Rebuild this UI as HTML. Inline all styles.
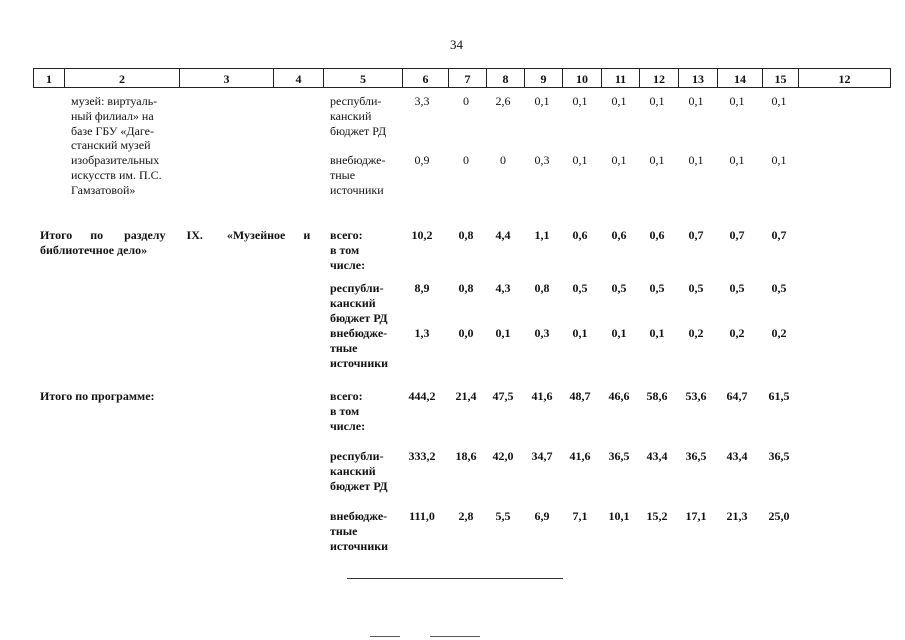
<!DOCTYPE html>
<html><head><meta charset="utf-8"><style>
body{margin:0;background:#fff;width:905px;height:640px;position:relative;overflow:hidden;font-family:"Liberation Serif",serif;color:#111}
.t{position:absolute;font-size:12px;line-height:15px;white-space:nowrap}
.b{font-weight:bold}
.h{position:absolute;top:68px;height:20px;border:1px solid #222;border-right:none;font-weight:bold;font-size:12px;text-align:center;line-height:20px;box-sizing:border-box}
.n{position:absolute;font-size:12px;line-height:15px;width:40px;text-align:center}
</style></head><body>
<div class="t" style="left:450px;top:37px;font-size:13px">34</div>
<div class="h" style="left:33px;width:31px">1</div>
<div class="h" style="left:64px;width:115px">2</div>
<div class="h" style="left:179px;width:94px">3</div>
<div class="h" style="left:273px;width:50px">4</div>
<div class="h" style="left:323px;width:79px">5</div>
<div class="h" style="left:402px;width:46px">6</div>
<div class="h" style="left:448px;width:38px">7</div>
<div class="h" style="left:486px;width:38px">8</div>
<div class="h" style="left:524px;width:38px">9</div>
<div class="h" style="left:562px;width:39px">10</div>
<div class="h" style="left:601px;width:38px">11</div>
<div class="h" style="left:639px;width:39px">12</div>
<div class="h" style="left:678px;width:39px">13</div>
<div class="h" style="left:717px;width:45px">14</div>
<div class="h" style="left:762px;width:36px">15</div>
<div class="h" style="left:798px;width:93px;border-right:1px solid #222">12</div>

<div class="t" style="left:71px;top:94px;line-height:14.8px">музей: виртуаль-<br>ный филиал» на<br>базе ГБУ «Даге-<br>станский музей<br>изобразительных<br>искусств им. П.С.<br>Гамзатовой»</div>
<div class="t" style="left:330px;top:94px">республи-<br>канский<br>бюджет РД</div>
<div class="t" style="left:330px;top:153px">внебюдже-<br>тные<br>источники</div>

<div id="nums"></div>

<div class="t b" style="left:40px;top:228px;width:278px;white-space:normal;text-align:justify;text-align-last:left">Итого&nbsp;&nbsp;&nbsp;&nbsp;&nbsp;&nbsp;по&nbsp;&nbsp;&nbsp;&nbsp;&nbsp;&nbsp;&nbsp;разделу&nbsp;&nbsp;&nbsp;&nbsp;&nbsp;&nbsp;&nbsp;IX.&nbsp;&nbsp;&nbsp;&nbsp;&nbsp;&nbsp;&nbsp;&nbsp;«Музейное&nbsp;&nbsp;&nbsp;&nbsp;&nbsp;&nbsp;и<br>библиотечное дело»</div>
<div class="t b" style="left:330px;top:228px">всего:<br>в том<br>числе:</div>
<div class="t b" style="left:330px;top:281px">республи-<br>канский<br>бюджет РД</div>
<div class="t b" style="left:330px;top:326px">внебюдже-<br>тные<br>источники</div>

<div class="t b" style="left:40px;top:389px">Итого по программе:</div>
<div class="t b" style="left:330px;top:389px">всего:<br>в том<br>числе:</div>
<div class="t b" style="left:330px;top:449px">республи-<br>канский<br>бюджет РД</div>
<div class="t b" style="left:330px;top:509px">внебюдже-<br>тные<br>источники</div>

<div style="position:absolute;left:347px;top:578px;width:216px;height:1px;background:#333"></div>
<div style="position:absolute;left:370px;top:636px;width:30px;height:1px;background:#555"></div>
<div style="position:absolute;left:430px;top:636px;width:50px;height:1px;background:#555"></div>

<script>
var cx=[422,466,503,542,580,619,657,696,737,779];
var rows=[
[94,0,["3,3","0","2,6","0,1","0,1","0,1","0,1","0,1","0,1","0,1"]],
[153,0,["0,9","0","0","0,3","0,1","0,1","0,1","0,1","0,1","0,1"]],
[228,1,["10,2","0,8","4,4","1,1","0,6","0,6","0,6","0,7","0,7","0,7"]],
[281,1,["8,9","0,8","4,3","0,8","0,5","0,5","0,5","0,5","0,5","0,5"]],
[326,1,["1,3","0,0","0,1","0,3","0,1","0,1","0,1","0,2","0,2","0,2"]],
[389,1,["444,2","21,4","47,5","41,6","48,7","46,6","58,6","53,6","64,7","61,5"]],
[449,1,["333,2","18,6","42,0","34,7","41,6","36,5","43,4","36,5","43,4","36,5"]],
[509,1,["111,0","2,8","5,5","6,9","7,1","10,1","15,2","17,1","21,3","25,0"]]];
var h="";
rows.forEach(function(r){r[2].forEach(function(v,i){h+='<div class="n'+(r[1]?' b':'')+'" style="left:'+(cx[i]-20)+'px;top:'+r[0]+'px">'+v+'</div>';});});
document.getElementById("nums").innerHTML=h;
</script>
</body></html>
